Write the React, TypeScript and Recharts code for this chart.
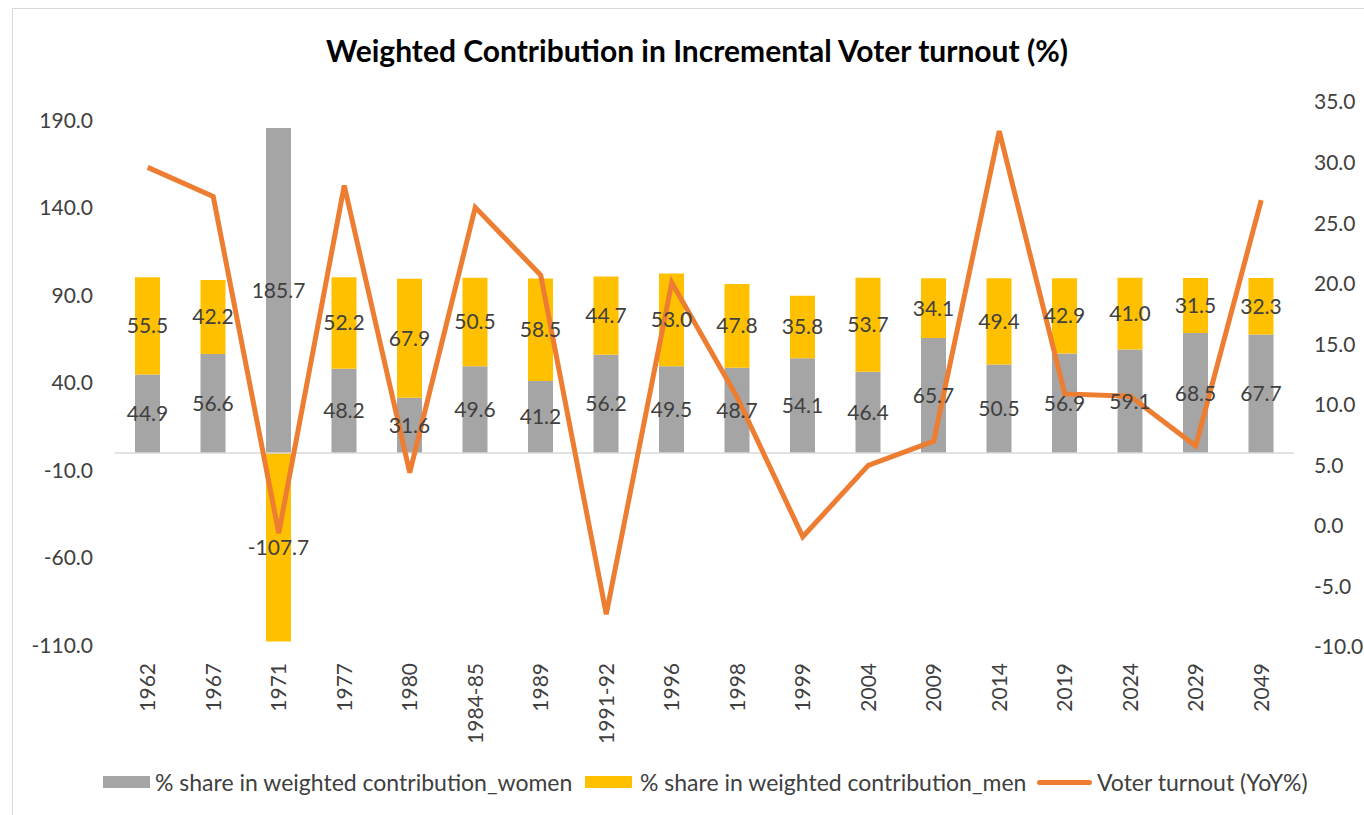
import {
  ComposedChart,
  Bar,
  Line,
  XAxis,
  YAxis,
  LabelList,
  ReferenceLine,
} from 'recharts';

// Data
const years = [
  '1962', '1967', '1971', '1977', '1980', '1984-85', '1989', '1991-92', '1996',
  '1998', '1999', '2004', '2009', '2014', '2019', '2024', '2029', '2049',
];
const womenShare = [
  44.9, 56.6, 185.7, 48.2, 31.6, 49.6, 41.2, 56.2, 49.5,
  48.7, 54.1, 46.4, 65.7, 50.5, 56.9, 59.1, 68.5, 67.7,
];
const menShare = [
  55.5, 42.2, -107.7, 52.2, 67.9, 50.5, 58.5, 44.7, 53.0,
  47.8, 35.8, 53.7, 34.1, 49.4, 42.9, 41.0, 31.5, 32.3,
];
const turnoutYoY = [
  29.6, 27.2, -0.6, 28.1, 4.4, 26.3, 20.7, -7.3, 20.1,
  10.6, -0.9, 5.0, 7.0, 32.6, 10.9, 10.7, 6.6, 26.9,
];
const leftTicks = [-110, -60, -10, 40, 90, 140, 190];
const rightTicks = [-10, -5, 0, 5, 10, 15, 20, 25, 30, 35];

const FONT = 'Lato, "Open Sans", sans-serif';
const GRAY = '#A5A5A5';
const YELLOW = '#FFC000';
const ORANGE = '#ED7D31';
const TEXT = '#404040';

const chartData = years.map((year, i) => ({
  year,
  women: womenShare[i],
  men: menShare[i],
  turnout: turnoutYoY[i],
}));

const fmt = (v: any) => Number(v).toFixed(1);

const YearTick = ({ x, payload }: any) => (
  <g transform={`translate(${x},663)`}>
    <text
      transform="rotate(-90)"
      textAnchor="end"
      dy="0.36em"
      fill={TEXT}
      fontSize={21}
      fontFamily={FONT}
    >
      {payload.value}
    </text>
  </g>
);

const legendItems = [
  { label: '% share in weighted contribution_women', color: GRAY, left: 103, textLeft: 155, type: 'box' },
  { label: '% share in weighted contribution_men', color: YELLOW, left: 585, textLeft: 640, type: 'box' },
  { label: 'Voter turnout (YoY%)', color: ORANGE, left: 1037, textLeft: 1097, type: 'line' },
];

const App = () => {
  return (
    <div
      style={{
        position: 'absolute',
        left: 0,
        top: 0,
        width: 1364,
        height: 815,
        overflow: 'hidden',
        background: '#fff',
        fontFamily: FONT,
      }}
    >
      <div
        style={{
          position: 'absolute',
          left: 12,
          top: 8,
          width: 1400,
          height: 840,
          border: '1px solid #d9d9d9',
        }}
      />
      <div
        style={{
          position: 'absolute',
          left: 0,
          width: 1394,
          top: 30,
          textAlign: 'center',
          fontSize: 30,
          lineHeight: '40px',
          fontWeight: 700,
          color: '#000',
        }}
      >
        Weighted Contribution in Incremental Voter turnout (%)
      </div>

      <div style={{ position: 'absolute', left: 0, top: 0 }}>
        <ComposedChart
          width={1364}
          height={815}
          data={chartData}
          stackOffset="sign"
          barSize={25}
          margin={{ top: 102, right: 0, bottom: 58, left: 0 }}
        >
          <XAxis
            dataKey="year"
            axisLine={false}
            tickLine={false}
            height={110}
            interval={0}
            tick={<YearTick />}
          />
          <YAxis
            yAxisId="left"
            width={115}
            domain={[-110.86, 200.57]}
            ticks={leftTicks}
            tickFormatter={fmt}
            axisLine={false}
            tickLine={false}
            tickSize={0}
            tickMargin={22}
            tick={{ fill: TEXT, fontSize: 21, fontFamily: FONT }}
          />
          <YAxis
            yAxisId="right"
            orientation="right"
            width={70}
            domain={[-10, 35]}
            ticks={rightTicks}
            tickFormatter={fmt}
            axisLine={false}
            tickLine={false}
            tickSize={0}
            tickMargin={20}
            tick={{ fill: TEXT, fontSize: 21, fontFamily: FONT, textAnchor: 'start' }}
          />
          <ReferenceLine yAxisId="left" y={0} stroke="#d9d9d9" strokeWidth={1.5} />
          <Bar
            yAxisId="left"
            dataKey="women"
            stackId="a"
            fill={GRAY}
            isAnimationActive={false}
          >
            <LabelList
              dataKey="women"
              position="center"
              formatter={fmt}
              fill={TEXT}
              fontSize={21}
              fontFamily={FONT}
            />
          </Bar>
          <Bar
            yAxisId="left"
            dataKey="men"
            stackId="a"
            fill={YELLOW}
            isAnimationActive={false}
          >
            <LabelList
              dataKey="men"
              position="center"
              formatter={fmt}
              fill={TEXT}
              fontSize={21}
              fontFamily={FONT}
            />
          </Bar>
          <Line
            yAxisId="right"
            dataKey="turnout"
            type="linear"
            stroke={ORANGE}
            strokeWidth={5}
            dot={false}
            activeDot={false}
            isAnimationActive={false}
          />
        </ComposedChart>
      </div>

      {legendItems.map((item) => (
        <div key={item.label}>
          <div
            style={{
              position: 'absolute',
              left: item.left,
              top: item.type === 'box' ? 776 : 780,
              width: item.type === 'box' ? 47 : 55,
              height: item.type === 'box' ? 12 : 5,
              background: item.color,
              borderRadius: item.type === 'line' ? 3 : 0,
            }}
          />
          <div
            style={{
              position: 'absolute',
              left: item.textLeft,
              top: 767,
              fontSize: 23,
              lineHeight: '30px',
              color: TEXT,
              whiteSpace: 'nowrap',
            }}
          >
            {item.label}
          </div>
        </div>
      ))}
    </div>
  );
};

export default App;
